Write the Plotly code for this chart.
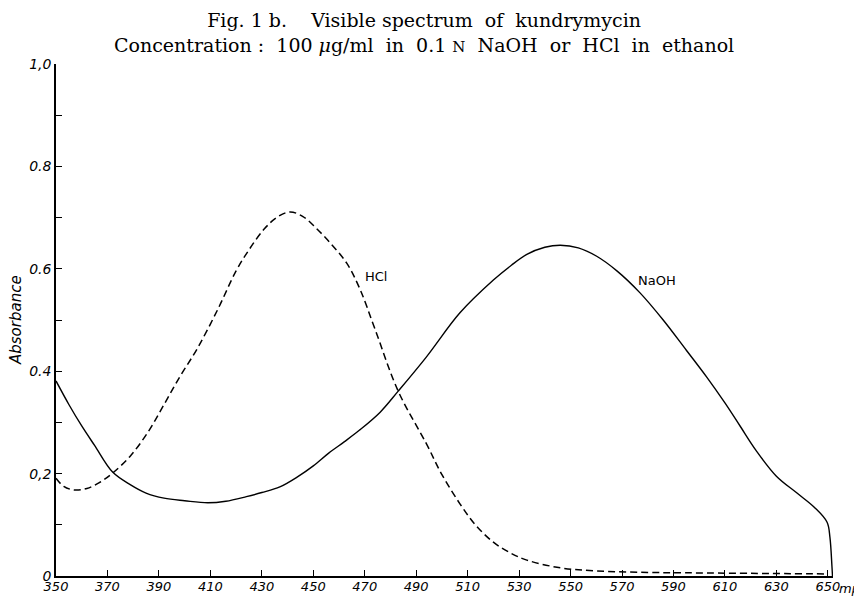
import plotly.graph_objects as go

# Wavelength (mμ) and absorbance readings
naoh_nm = [350, 355, 360, 365, 372, 379, 385, 392, 400, 409, 416, 424, 430, 437, 444, 450, 456,
           462, 468, 476, 483, 494, 507, 520, 527, 533, 540, 546, 553, 560, 568, 577, 586, 595,
           603, 610, 616, 622, 630, 638, 645, 649.7, 650.8, 651.6, 651.8]
naoh_abs = [0.381, 0.335, 0.293, 0.255, 0.203, 0.178, 0.162, 0.152, 0.147, 0.143, 0.146,
            0.155, 0.163, 0.174, 0.194, 0.215, 0.240, 0.262, 0.285, 0.320, 0.361, 0.428,
            0.514, 0.578, 0.607, 0.628, 0.642, 0.646, 0.641, 0.625, 0.596, 0.553, 0.500,
            0.441, 0.388, 0.338, 0.292, 0.246, 0.195, 0.162, 0.133, 0.105, 0.076, 0.018, 0.0]

hcl_nm = [350, 353, 357, 362, 367, 372, 379, 386, 392, 398, 405, 413, 420, 425, 431, 436,
          441, 446, 451, 457, 463, 468, 474, 483, 494, 500, 507, 513, 520, 527, 533, 546,
          560, 580, 600, 650]
hcl_abs = [0.191, 0.175, 0.168, 0.171, 0.183, 0.201, 0.235, 0.283, 0.335, 0.388, 0.445,
           0.522, 0.596, 0.637, 0.678, 0.701, 0.711, 0.702, 0.680, 0.648, 0.611, 0.562,
           0.482, 0.361, 0.258, 0.198, 0.141, 0.100, 0.066, 0.044, 0.031, 0.016, 0.010,
           0.007, 0.006, 0.004]

x_ticks = list(range(350, 651, 20))
y_tickvals = [0, 0.1, 0.2, 0.3, 0.4, 0.5, 0.6, 0.7, 0.8, 0.9, 1.0]
y_ticktext = ["0", "", "0,2", "", "0.4", "", "0.6", "", "0.8", "", "1,0"]

title_lines = ["Fig. 1 b.    Visible spectrum  of  kundrymycin",
               "Concentration :  100 <i>μ</i>g/ml  in  0.1 <span style='font-size:15px'>N</span>  NaOH  or  HCl  in  ethanol"]

tick_font = dict(family="DejaVu Sans", size=13, color="black", style="italic")
serif = dict(family="DejaVu Serif", size=19, color="black")

fig = go.Figure()
fig.add_trace(go.Scatter(x=naoh_nm, y=naoh_abs, mode="lines", name="NaOH",
                         line=dict(color="black", width=1.4, shape="spline", smoothing=1.0)))
fig.add_trace(go.Scatter(x=hcl_nm, y=hcl_abs, mode="lines", name="HCl",
                         line=dict(color="black", width=1.5, dash="7px,4px",
                                   shape="spline", smoothing=1.0)))

# Curve labels
fig.add_annotation(x=474.5, y=0.584, text="HCl", showarrow=False,
                   font=dict(family="DejaVu Sans", size=13, color="black"))
fig.add_annotation(x=583.5, y=0.578, text="NaOH", showarrow=False,
                   font=dict(family="DejaVu Sans", size=13, color="black"))
# Unit label
fig.add_annotation(x=1.0, y=0.0, xref="paper", yref="paper", text="mμ", showarrow=False,
                   xanchor="left", yanchor="top", xshift=4, yshift=-3,
                   font=dict(family="DejaVu Sans", size=13, color="black", style="italic"))
# Title (two lines)
fig.add_annotation(x=0.474, y=1.0625, xref="paper", yref="paper", showarrow=False,
                   text="<br>".join(title_lines), font=serif, align="center",
                   xanchor="center", yanchor="middle", borderpad=0)
# Y axis title
fig.add_annotation(x=-0.0515, y=0.5, xref="paper", yref="paper", showarrow=False,
                   text="Absorbance", textangle=-90, xanchor="center", yanchor="middle",
                   font=dict(family="DejaVu Sans", size=15, color="black", style="italic"))

fig.update_layout(
    width=854, height=588,
    margin=dict(l=48, r=29, t=56, b=20, autoexpand=False),
    paper_bgcolor="white", plot_bgcolor="white",
    showlegend=False,
    xaxis=dict(range=[350, 652], tickvals=x_ticks, ticktext=[str(v) for v in x_ticks],
               showgrid=False, zeroline=False, showline=True, linecolor="black", linewidth=1.5,
               ticks="inside", ticklen=6, tickcolor="black", tickfont=tick_font,
               ticklabelstandoff=-2, automargin=False),
    yaxis=dict(range=[0, 1.0], tickvals=y_tickvals, ticktext=y_ticktext,
               showgrid=False, zeroline=False, showline=True, linecolor="black", linewidth=1.5,
               ticks="inside", ticklen=6, tickcolor="black",
               tickfont=dict(family="DejaVu Sans", size=14, color="black", style="italic"),
               automargin=False),
)

fig.write_html("out.html")
